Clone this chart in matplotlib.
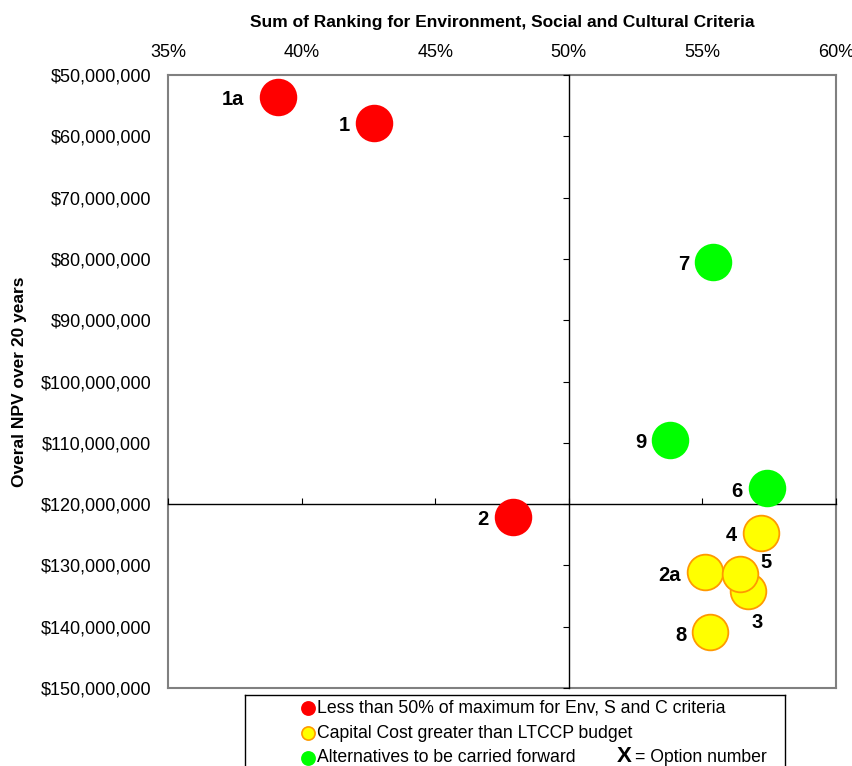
import matplotlib
matplotlib.use("Agg")
import matplotlib.pyplot as plt
from matplotlib.ticker import FuncFormatter, MultipleLocator

plt.rcParams["font.family"] = ["Liberation Sans", "DejaVu Sans"]

# option number, env/social/cultural score (fraction of max), NPV over 20 years ($)
options = ["1a", "1", "2", "2a", "3", "4", "5", "6", "7", "8", "9"]
esc_score = [0.391, 0.427, 0.479, 0.551, 0.567, 0.572, 0.564, 0.574, 0.554, 0.553, 0.538]
npv = [53.6e6, 57.8e6, 122.1e6, 131.1e6, 134.2e6, 124.7e6, 131.4e6,
       117.4e6, 80.5e6, 140.9e6, 109.5e6]
group = ["low", "low", "low", "cost", "cost", "cost", "cost",
         "fwd", "fwd", "cost", "fwd"]

group_names = {
    "low": "Less than 50% of maximum for Env, S and C criteria",
    "cost": "Capital Cost greater than LTCCP budget",
    "fwd": "Alternatives to be carried forward",
}
face = {"low": "#FF0000", "cost": "#FFFF00", "fwd": "#00FF00"}
edge = {"low": "#FF0000", "cost": "#FF9900", "fwd": "#00FF00"}

# label placement in pixels relative to the marker centre
label_offset = {"1a": (-33, -2, "right"), "5": (21, 11, "left"), "3": (9, -31, "center")}

W, H = 853, 766
fig = plt.figure(figsize=(W / 100, H / 100), dpi=100)
pos = [168 / W, 1 - 688 / H, (836 - 168) / W, (688 - 75) / H]

# outer frame carrying the tick labels
ax = fig.add_axes(pos)
ax.set_xlim(0.35, 0.60)
ax.set_ylim(150e6, 50e6)
ax.xaxis.set_major_locator(MultipleLocator(0.05))
ax.yaxis.set_major_locator(MultipleLocator(10e6))
ax.xaxis.set_major_formatter(FuncFormatter(lambda v, p: f"{v * 100:.0f}%"))
ax.yaxis.set_major_formatter(FuncFormatter(lambda v, p: f"${v:,.0f}"))
ax.xaxis.tick_top()
ax.tick_params(length=0, labelsize=13, pad=12)
ax.tick_params(axis="x", pad=10)
for s in ax.spines.values():
    s.set_color("#808080")
    s.set_linewidth(1.5)
ax.xaxis.set_label_position("top")
ax.set_xlabel("Sum of Ranking for Environment, Social and Cultural Criteria",
              fontsize=12.5, fontweight="bold", labelpad=12)
ax.set_ylabel("Overal NPV over 20 years", fontsize=12.5, fontweight="bold",
              labelpad=10)

# crossing axes at 50% / $120M
axc = fig.add_axes(pos, sharex=ax, sharey=ax)
axc.patch.set_visible(False)
axc.spines["top"].set_visible(False)
axc.spines["right"].set_visible(False)
axc.spines["left"].set_position(("data", 0.50))
axc.spines["bottom"].set_position(("data", 120e6))
for k in ("left", "bottom"):
    axc.spines[k].set_color("black")
    axc.spines[k].set_linewidth(1.0)
axc.tick_params(axis="x", direction="in", length=4, labelbottom=False)
axc.tick_params(axis="y", direction="out", length=4, labelleft=False)

order = [options.index(o) for o in ["1a", "1", "2", "7", "9", "6", "4", "2a", "3", "5", "8"]]
for i in order:
    g = group[i]
    axc.scatter(esc_score[i], npv[i], s=660, c=face[g], edgecolors=edge[g],
                linewidths=1.3, zorder=3, clip_on=False)
    dx, dy, ha = label_offset.get(options[i], (-24, -3, "right"))
    axc.annotate(options[i], (esc_score[i], npv[i]), xytext=(dx, dy),
                 textcoords="offset pixels", ha=ha, va="center",
                 fontsize=14.5, fontweight="bold", zorder=4)

# legend box, cut off at the bottom edge of the figure
axl = fig.add_axes([245 / W, -20 / H, (785 - 245) / W, 91 / H])
axl.set_xlim(0, 540)
axl.set_ylim(91, 0)
axl.set_xticks([])
axl.set_yticks([])
for s in axl.spines.values():
    s.set_color("black")
    s.set_linewidth(1.0)
for j, g in enumerate(["low", "cost", "fwd"]):
    yy = 13 + 25 * j
    axl.scatter(63, yy, s=90, c=face[g], edgecolors=edge[g], linewidths=1.2)
    axl.text(72, yy, group_names[g], fontsize=12.7, va="center", ha="left")
axl.text(372, 62, "X", fontsize=16, fontweight="bold", va="center", ha="left")
axl.text(390, 63, "= Option number", fontsize=12.7, va="center", ha="left")

fig.savefig("out.png", dpi=100)
